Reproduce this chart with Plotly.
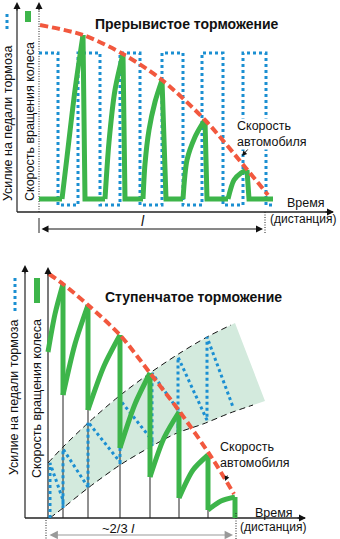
import plotly.graph_objects as go

# ---------------- Intermittent braking (upper panel) ----------------
# time is measured from the wheel-speed axis, values upward from the time axis
top_car_t = [1, 44, 84, 123, 166, 206, 229]
top_car_v = [187, 177, 158, 132, 92, 45, 17]

# wheel speed: each recovery (rise) ends at the car-speed curve, then falls to the floor
top_wheel_floor = 13
top_rise_t = [[23, 28, 36, 44], [66, 70, 76, 84], [104, 106, 110, 116, 123],
              [144, 148, 156, 162, 166], [189, 195, 202, 208]]
top_rise_v = [[13, 55, 122, 177], [13, 70, 122, 158], [13, 48, 82, 110, 132],
              [13, 52, 75, 86, 92], [13, 32, 39, 42]]
top_drop_t = [46, 86, 127, 168, 210]
top_wheel_end = 234

top_brake_t = [0, 19, 19, 39, 39, 61, 61, 81, 81, 101, 101, 123, 123, 144, 144, 163, 163,
               184, 184, 204, 204, 227, 227, 233]
top_brake_v = [159, 159, 7, 7, 159, 159, 7, 7, 159, 159, 7, 7, 159, 159, 7, 7, 159,
               159, 7, 7, 159, 159, 7, 7]

# ---------------- Stepped braking (lower panel) ----------------
bot_car_t = [1, 15, 40, 72, 102, 132, 164, 186]
bot_car_v = [244, 234, 213, 183, 145, 106, 60, 24]

bot_rise_t = [[0, 7, 15], [15, 27, 40], [40, 56, 72], [72, 87, 102], [102, 116, 131],
              [131, 145, 160], [160, 173, 187]]
bot_rise_v = [[166, 204, 234], [123, 174, 213], [108, 152, 183], [70, 114, 145], [41, 80, 106],
              [20, 48, 63], [8, 17, 21]]

band_upper_t = [0, 15, 40, 70, 102, 132, 159, 187]
band_upper_v = [55, 71, 95, 121, 145, 165, 181, 195]
band_lower_t = [217, 205, 182, 155, 129, 104, 72, 40, 15, 2]
band_lower_v = [117, 113, 105, 94, 85, 72, 53, 30, 10, 0]

bot_brake_t = [2, 2, 15, 15, 15, 40, 40, 40, 72, 72, 72, 104, 104, 104, 130, 130, 130, 158, 159, 159, 185]
bot_brake_v = [0, 55, 18, 10, 69, 31, 30, 96, 56, 53, 118, 78, 72, 145, 108, 86, 161, 100, 98, 181, 111]

RED = "#f2583e"
GREEN = "#3db54a"
BLUE = "#1b8fd2"
BAND = "#d3eadd"
FONT = "Liberation Sans, Arial, sans-serif"

fig = go.Figure()


def line(t, v, color, width, dash="solid", xa="x", ya="y", shape="linear"):
    fig.add_trace(go.Scatter(x=t, y=v, mode="lines", xaxis=xa, yaxis=ya, hoverinfo="skip",
                             line=dict(color=color, width=width, dash=dash, shape=shape,
                                       smoothing=0.8)))


# upper panel
line([0, 0], [0, 203], "#222", 1, "1px,1.5px")
line([-22, 294], [0, 0], "#222", 1.6)
line([-22, -22], [0, 205], "#222", 1.2)
line(top_brake_t, top_brake_v, BLUE, 3, "3px,3px")

# straight parts of the wheel-speed line: floor stretches and falls after each peak
lin_t = [0, top_rise_t[0][0], None]
lin_v = [top_wheel_floor, top_wheel_floor, None]
for i, (rt, rv) in enumerate(zip(top_rise_t, top_rise_v)):
    nxt = top_rise_t[i + 1][0] if i + 1 < len(top_rise_t) else top_wheel_end
    lin_t += [rt[-1], top_drop_t[i], nxt, None]
    lin_v += [rv[-1], top_wheel_floor, top_wheel_floor, None]
line(lin_t, lin_v, GREEN, 5)
for rt, rv in zip(top_rise_t, top_rise_v):
    line(rt, rv, GREEN, 5, shape="spline")
line(top_car_t, top_car_v, RED, 4, "8px,4px", shape="spline")
line([-32, -32], [198, 180], BLUE, 3, "3px,3px")
line([-11, -11], [201, 190], GREEN, 6)
line([226, 226], [0, -21], "#222", 1, "1px,1.5px")
line([0, 0], [-6, -21], "#222", 1)

# lower panel
band_t = band_upper_t + band_lower_t
band_v = band_upper_v + band_lower_v
fig.add_trace(go.Scatter(x=band_t, y=band_v, mode="lines", fill="toself", fillcolor=BAND,
                         line=dict(width=0), xaxis="x2", yaxis="y2", hoverinfo="skip"))
line(band_upper_t[:-1] + [183], band_upper_v[:-1] + [193], "#111", 1, "6px,4px", "x2", "y2", "spline")
line(band_lower_t[1:][::-1], band_lower_v[1:][::-1], "#111", 1, "6px,4px", "x2", "y2", "spline")
line([-23, 257], [0, 0], "#222", 1.6, xa="x2", ya="y2")
line([-23, -23], [0, 248], "#222", 1.2, xa="x2", ya="y2")
line([0, 0], [0, 246], "#222", 1.2, xa="x2", ya="y2")

# thin markers from the time axis up to each release point of the wheel
st_t, st_v = [], []
for rt, rv in zip(bot_rise_t[1:], bot_rise_v[1:]):
    st_t += [rt[0], rt[0], None]
    st_v += [0, rv[0], None]
line(st_t, st_v, "#222", 1, xa="x2", ya="y2")
line(bot_brake_t, bot_brake_v, BLUE, 3, "3px,3px", "x2", "y2")

# vertical falls between consecutive steps
fall_t, fall_v = [], []
for i, (rt, rv) in enumerate(zip(bot_rise_t, bot_rise_v)):
    if i + 1 < len(bot_rise_t):
        fall_t += [rt[-1], bot_rise_t[i + 1][0], None]
        fall_v += [rv[-1], bot_rise_v[i + 1][0], None]
    else:
        fall_t += [rt[-1], rt[-1], None]
        fall_v += [rv[-1], 0, None]
line(fall_t, fall_v, GREEN, 5, xa="x2", ya="y2")
for rt, rv in zip(bot_rise_t, bot_rise_v):
    line(rt, rv, GREEN, 5, xa="x2", ya="y2", shape="spline")
line(bot_car_t, bot_car_v, RED, 4, "8px,4px", "x2", "y2", "spline")
line([-33, -33], [240, 205], BLUE, 3, "3px,3px", "x2", "y2")
line([-11, -11], [240, 215], GREEN, 6, xa="x2", ya="y2")
line([-2, -2], [-2, -21], "#222", 1, "1px,1.5px", "x2", "y2")
line([188, 188], [5, -21], "#222", 1, "1px,1.5px", "x2", "y2")

ann = []


def text(x, y, s, xr="x", yr="y", size=12.5, anchor="left", angle=0, bg=None, bold=False, family=FONT):
    ann.append(dict(x=x, y=y, xref=xr, yref=yr, text=("<b>%s</b>" % s) if bold else s,
                    showarrow=False, xanchor=anchor, yanchor="middle", textangle=angle,
                    align="left", font=dict(family=family, size=size, color="#111"),
                    bgcolor=bg, borderpad=0))


def arrow(x, y, ax, ay, xr="x", yr="y", color="#111", width=1, side="end", size=1.4):
    ann.append(dict(x=x, y=y, ax=ax, ay=ay, xref=xr, yref=yr, axref=xr, ayref=yr, text="",
                    showarrow=True, arrowhead=2, arrowsize=size, arrowwidth=width,
                    arrowcolor=color, arrowside=side))


# upper panel texts
text(148, 188, "Прерывистое торможение", bold=True, size=14, anchor="center")
text(197, 78, "Скорость<br>автомобиля", bg="white")
text(247, 9, "Время")
text(230, -7, "(дистанция)", size=12)
text(104, -9, "<i>l</i>", size=14, anchor="center")
text(-31, 88, "Усилие на педали тормоза", angle=-90, anchor="center")
text(-9, 90, "Скорость вращения колеса", angle=-90, anchor="center")
arrow(203, 56, 210, 64, size=1)
arrow(-22, 210, -22, 200)
arrow(0, 210, 0, 200)
arrow(295, 0, 285, 0)
arrow(224, -17, 1, -17, side="end+start")

# lower panel texts
text(145, 221, "Ступенчатое торможение", "x2", "y2", bold=True, size=14, anchor="center")
text(171, 63, "Скорость<br>автомобиля", "x2", "y2")
text(206, 5, "Время", "x2", "y2")
text(191, -9, "(дистанция)", "x2", "y2", size=12)
text(70, -10, "~2/3 <i>l</i>", "x2", "y2", size=13, anchor="center")
text(-34, 120, "Усилие на педали тормоза", "x2", "y2", angle=-90, anchor="center")
text(-11, 119, "Скорость вращения колеса", "x2", "y2", angle=-90, anchor="center")
arrow(177, 37, 180, 44, "x2", "y2", size=1)
arrow(-23, 253, -23, 243, "x2", "y2")
arrow(0, 251, 0, 241, "x2", "y2")
arrow(258, 0, 248, 0, "x2", "y2")
arrow(185, -17, 0, -17, "x2", "y2", color="#999", width=1.2, side="end+start")

split = 279 / 539
hidden = dict(visible=False, showgrid=False, zeroline=False, fixedrange=True)
fig.update_layout(
    width=340, height=539, autosize=False,
    margin=dict(l=0, r=0, t=0, b=0),
    paper_bgcolor="white", plot_bgcolor="white",
    showlegend=False,
    xaxis=dict(range=[-39, 301], domain=[0, 1], anchor="y", **hidden),
    yaxis=dict(range=[-48, 212], domain=[split, 1], anchor="x", **hidden),
    xaxis2=dict(range=[-48, 292], domain=[0, 1], anchor="y2", **hidden),
    yaxis2=dict(range=[-21, 258], domain=[0, split], anchor="x2", **hidden),
    annotations=ann,
)

fig.write_html("out.html", config={"displayModeBar": False})
